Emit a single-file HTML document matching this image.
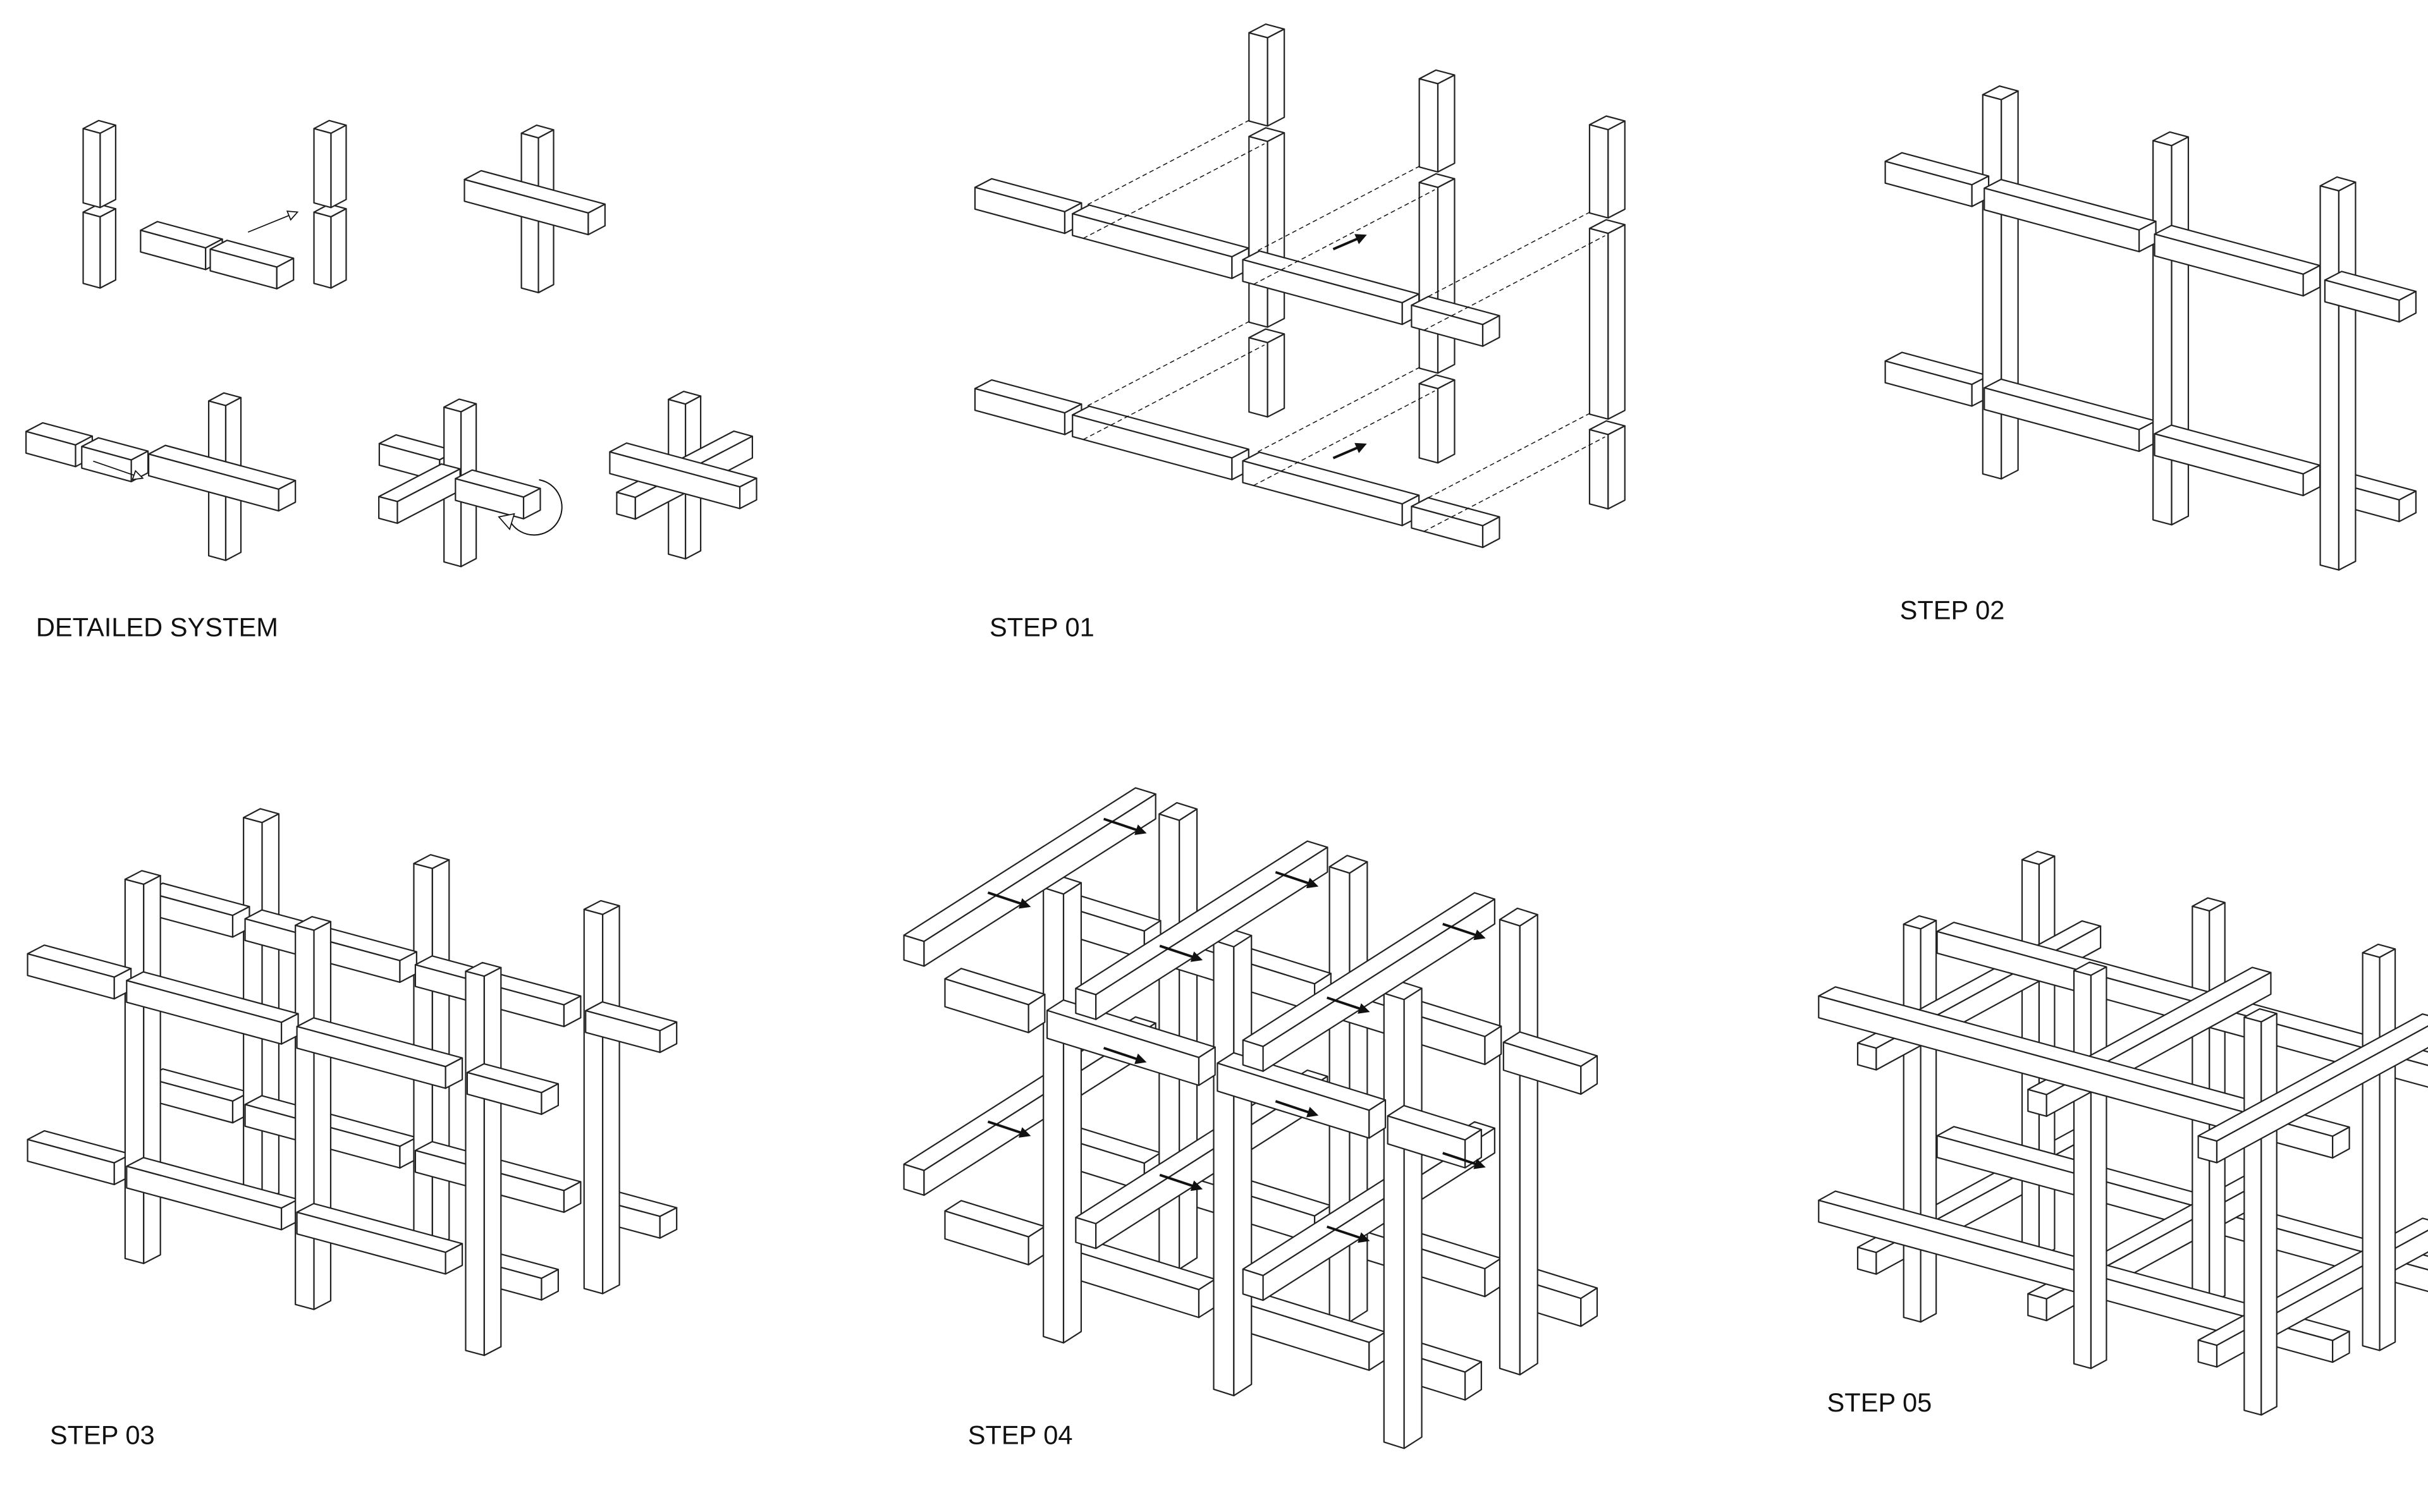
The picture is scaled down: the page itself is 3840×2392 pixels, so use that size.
<!DOCTYPE html>
<html><head><meta charset="utf-8">
<style>
html,body{margin:0;padding:0;background:#fff;}
svg{display:block;}
text{font-family:"Liberation Sans",sans-serif;font-size:17px;fill:#111;}
</style></head>
<body>
<svg id="s" width="3840" height="2392" viewBox="0 0 1568 977" xmlns="http://www.w3.org/2000/svg">
<rect width="1568" height="977" fill="#fff"/>
<g id="g" fill="#fff" stroke="#222" stroke-width="0.9" stroke-linejoin="round"></g>
<g id="a" stroke="#111" fill="#111"></g>
<text x="23" y="411">DETAILED SYSTEM</text>
<text x="639" y="411">STEP 01</text>
<text x="1227" y="400">STEP 02</text>
<text x="32" y="933">STEP 03</text>
<text x="625" y="933">STEP 04</text>
<text x="1180" y="912">STEP 05</text>
</svg>
<script>
var out=[],arr=[];
function Scene(o,kx,ya,yb){
  var s={o:o,kx:kx,ya:ya,yb:yb,boxes:[],lines:[]};
  s.P=function(x,y,z){return [o[0]+x+ya*y,o[1]+kx*x+yb*y-z];};
  s.v=[ya,-1,ya*kx-yb];
  s.box=function(x0,y0,z0,x1,y1,z1){s.boxes.push([x0,y0,z0,x1,y1,z1]);};
  s.col=function(x,y,z0,z1,w){w=w||12;s.box(x-w/2,y-w/2,z0,x+w/2,y+w/2,z1);};
  s.bx=function(x0,x1,y,zc,w,h){w=w||12;h=h||14;s.box(x0,y-w/2,zc-h/2,x1,y+w/2,zc+h/2);};
  s.by=function(x,y0,y1,zc,w,h){w=w||12;h=h||14;s.box(x-w/2,y0,zc-h/2,x+w/2,y1,zc+h/2);};
  s.render=function(){
    var v=s.v;
    s.boxes.sort(function(a,b){
      var ca=(a[0]+a[3])/2*v[0]+(a[1]+a[4])/2*v[1]+(a[2]+a[5])/2*v[2];
      var cb=(b[0]+b[3])/2*v[0]+(b[1]+b[4])/2*v[1]+(b[2]+b[5])/2*v[2];
      return ca-cb;});
    s.boxes.forEach(function(b){
      var x0=b[0],y0=b[1],z0=b[2],x1=b[3],y1=b[4],z1=b[5];
      var F=[[[x0,y0,z1],[x1,y0,z1],[x1,y1,z1],[x0,y1,z1]],
             [[x0,y0,z0],[x1,y0,z0],[x1,y0,z1],[x0,y0,z1]],
             [[x1,y0,z0],[x1,y1,z0],[x1,y1,z1],[x1,y0,z1]]];
      F.forEach(function(f){
        out.push('<polygon points="'+f.map(function(p){var q=s.P(p[0],p[1],p[2]);return q[0].toFixed(1)+','+q[1].toFixed(1);}).join(' ')+'"/>');
      });
    });
  };
  return s;
}
function arrow(x1,y1,x2,y2,open){
  var dx=x2-x1,dy=y2-y1,L=Math.hypot(dx,dy),ux=dx/L,uy=dy/L,h=6,w=3;
  var bx=x2-ux*h,by=y2-uy*h;
  arr.push('<line x1="'+x1+'" y1="'+y1+'" x2="'+bx+'" y2="'+by+'" stroke-width="'+(open?0.7:1.6)+'"/>');
  arr.push('<polygon points="'+x2+','+y2+' '+(bx-uy*w)+','+(by+ux*w)+' '+(bx+uy*w)+','+(by-ux*w)+'" fill="'+(open?'#fff':'#111')+'" stroke-width="0.7"/>');
}
var K=0.27,YA=0.9,YB=-0.47;
var d;
d=Scene([64,182],K,YA,YB);d.col(0,0,0,46,11);d.col(0,0,52,100,11);d.render();
d=Scene([96,160],K,YA,YB);d.bx(0,42,0,7);d.bx(45,88,0,7);d.render();
d=Scene([213,182],K,YA,YB);d.col(0,0,0,46,11);d.col(0,0,52,100,11);d.render();
d=Scene([347,185],K,YA,YB);d.col(0,0,0,100,11);d.bx(-40,40,-2,55);d.render();
d=Scene([22,290],K,YA,YB);d.bx(0,32,0,7);d.bx(36,68,0,7);d.render();
d=Scene([145,358],K,YA,YB);d.col(0,0,0,100,11);d.bx(-42,42,-2,50);d.render();
d=Scene([297,362],K,YA,YB);d.col(0,0,0,100,11);d.by(-6,-45,0,52);d.bx(-45,-6,-2,60);d.bx(6,50,-4,52);d.render();
d=Scene([442,357],K,YA,YB);d.col(0,0,0,100,11);d.bx(-42,42,-1,50);d.by(0,-42,42,50);d.render();
arrow(160,150,192,137,true);arrow(60,298,92,309,true);
arr.push('<path d="M330,338 A18,18 0 1 0 348,310" fill="none" stroke-width="0.8"/>');
arr.push('<polygon points="322,334 332,332 329,342" fill="#fff" stroke-width="0.7"/>');
// STEP 01
d=Scene([818,265],K,YA,YB);
[0,110,220].forEach(function(x){d.col(x,0,0,48,12);d.col(x,0,58,178,12);d.col(x,0,188,245,12);});
[183,53].forEach(function(z){[[-66,-8],[-3,100],[107,210],[216,262]].forEach(function(s){d.bx(s[0],s[1],-130,z);});});
d.render();
[0,110,220].forEach(function(x){[183,53].forEach(function(z){
  var a=d.P(x-4,-124,z+7),b=d.P(x-4,-6,z+7),c=d.P(x+4,-136,z-7),e=d.P(x+4,-6,z-7);
  arr.push('<line x1="'+a[0]+'" y1="'+a[1]+'" x2="'+b[0]+'" y2="'+b[1]+'" stroke-width="0.6" stroke-dasharray="3,2"/>');
  arr.push('<line x1="'+c[0]+'" y1="'+c[1]+'" x2="'+e[0]+'" y2="'+e[1]+'" stroke-width="0.6" stroke-dasharray="3,2"/>');
});});
arrow(861,161,882,152,false);arrow(861,296,882,287,false);
// STEP 02
d=Scene([1292,305],K,YA,YB);
[0,110,218].forEach(function(x){d.col(x,0,0,245,12);});
[185,56].forEach(function(z){[[-60,-4],[4,104],[114,210],[224,272]].forEach(function(s){d.bx(s[0],s[1],-10,z);});});
d.render();
// STEP 03
d=Scene([92,812],K,YA,YB);
[0,85].forEach(function(y){[0,110,220].forEach(function(x){d.col(x,y,0,245,12);});
 [180,60].forEach(function(z){[[-60,-4],[4,104],[114,210],[224,272]].forEach(function(s){d.bx(s[0],s[1],y-10,z);});});});
d.render();
// STEP 04
d=Scene([686,862],0.31,0.88,-0.56);
[0,85].forEach(function(y){[0,110,220].forEach(function(x){d.col(x,y,0,290,13);});
 [212,62].forEach(function(z){[[-60,-6],[6,104],[116,214],[226,276]].forEach(function(s){d.bx(s[0],s[1],y-12,z,12,18);});});});
[-43,68,176].forEach(function(x){[268,120].forEach(function(z){d.by(x,-60,110,z,13,16);});});
d.render();
[-43,68,176].forEach(function(x){[268,120].forEach(function(z){[-8,77].forEach(function(y){
  var p=d.P(x+2,y,z+9);arrow(p[0],p[1],p[0]+27,p[1]+9,false);});});});
// STEP 05
d=Scene([1240,850],0.273,0.9,-0.49);
[0,85].forEach(function(y){[0,110,220].forEach(function(x){d.col(x,y,0,254,11);});
 [186,54].forEach(function(z){d.bx(-60,272,y,z);});});
[0,110,220].forEach(function(x){[186,54].forEach(function(z){d.by(x,-38,123,z);});});
d.render();
document.getElementById('g').innerHTML=out.join('');
document.getElementById('a').innerHTML=arr.join('');
</script>
</body></html>
